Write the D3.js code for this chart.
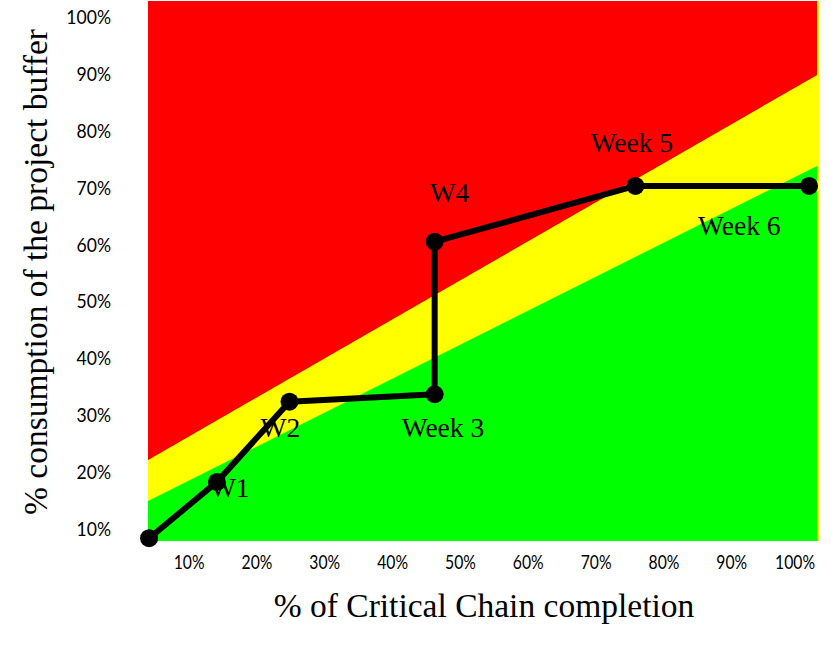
<!DOCTYPE html>
<html>
<head>
<meta charset="utf-8">
<script src="https://cdn.jsdelivr.net/npm/d3@7"></script>
<style>
  body { margin: 0; background: #fff; }
  svg { display: block; }
</style>
</head>
<body>
<div id="chart"></div>
<script>
// buffer consumption chart (fever chart)

// progress points: % of critical chain done vs % of buffer used
var completion = [1.9, 11.9, 22.6, 44.0, 44.0, 73.6, 99.2];
var consumption = [8.5, 18.4, 32.5, 33.8, 60.6, 70.4, 70.4];
var pointLabels = ["", "W1", "W2", "Week 3", "W4", "Week 5", "Week 6"];

// zone boundaries (red above upper, yellow between, green below lower)
var zoneX = [0, 101];
var upperZone = [21.0, 90.3];
var lowerZone = [14.0, 74.3];

var xTicks = [10, 20, 30, 40, 50, 60, 70, 80, 90, 100];
var yTicks = [10, 20, 30, 40, 50, 60, 70, 80, 90, 100];

// label offsets from their point, px
var labelOffsets = [[0, 0], [-7, 15], [-29, 35], [-33, 43], [-5, -40], [-45, -34], [-111, 49]];

var W = 831, H = 647;
var plot = {left: 148, right: 817, top: 1, bottom: 541};

var svg = d3.select("#chart")
  .append("svg")
    .attr("width", W)
    .attr("height", H);

var x = d3.scaleLinear()
  .domain([0, 100])
  .range([136.2, 814.5]);

var y = d3.scaleLinear()
  .domain([0, 100])
  .range([586.6, 17.5]);

svg.append("clipPath")
    .attr("id", "plotClip")
  .append("rect")
    .attr("x", plot.left)
    .attr("y", plot.top)
    .attr("width", plot.right - plot.left)
    .attr("height", plot.bottom - plot.top);

// thin yellow strip shows on the right edge in the original
svg.append("rect")
  .attr("x", plot.left)
  .attr("y", plot.top)
  .attr("width", plot.right - plot.left + 2)
  .attr("height", plot.bottom - plot.top)
  .style("fill", "#ffff00");

var zones = svg.append("g").attr("clip-path", "url(#plotClip)");

var yHi = y.domain()[1] + 10, yLo = y.domain()[0] - 10;

var area = d3.area()
  .x(function(d) { return x(d[0]); })
  .y0(function(d) { return y(d[1]); })
  .y1(function(d) { return y(d[2]); });

// red: above upper line
zones.append("path")
  .datum(zoneX.map(function(v, i) { return [v, upperZone[i], yHi]; }))
  .attr("d", area)
  .style("fill", "#ff0000");

// yellow: between
zones.append("path")
  .datum(zoneX.map(function(v, i) { return [v, lowerZone[i], upperZone[i]]; }))
  .attr("d", area)
  .style("fill", "#ffff00");

// green: below lower line
zones.append("path")
  .datum(zoneX.map(function(v, i) { return [v, yLo, lowerZone[i]]; }))
  .attr("d", area)
  .style("fill", "#00ff00");

// axes
var tickFont = "Lato, 'Open Sans', sans-serif";

var yAxis = svg.append("g")
  .attr("transform", "translate(111,0)")
  .call(d3.axisLeft(y).tickValues(yTicks).tickSize(0).tickPadding(0)
        .tickFormat(function(d) { return d + "%"; }));
yAxis.select(".domain").remove();
yAxis.selectAll("text")
  .attr("transform", "scale(0.95,1)")
  .style("font-family", tickFont)
  .style("font-size", "18.5px")
  .style("fill", "#000");

var xAxis = svg.append("g")
  .attr("transform", "translate(0," + plot.bottom + ")")
  .call(d3.axisBottom(x).tickValues(xTicks).tickSize(0).tickPadding(15)
        .tickFormat(function(d) { return d + "%"; }));
xAxis.select(".domain").remove();
xAxis.selectAll("text")
  .attr("text-anchor", "end")
  .attr("transform", "scale(0.85,1)")
  .style("font-family", tickFont)
  .style("font-size", "18.5px")
  .style("fill", "#000");

// axis titles
var titleFont = "'Liberation Serif', 'Times New Roman', serif";

svg.append("text")
  .attr("x", 484)
  .attr("y", 617)
  .attr("text-anchor", "middle")
  .style("font-family", titleFont)
  .style("font-size", "33.5px")
  .text("% of Critical Chain completion");

svg.append("text")
  .attr("transform", "translate(47,272) rotate(-90)")
  .attr("text-anchor", "middle")
  .style("font-family", titleFont)
  .style("font-size", "33.5px")
  .text("% consumption of the project buffer");

// progress line
var pts = completion.map(function(v, i) { return [v, consumption[i]]; });

svg.append("path")
  .datum(pts)
  .attr("d", d3.line()
    .x(function(d) { return x(d[0]); })
    .y(function(d) { return y(d[1]); }))
  .style("fill", "none")
  .style("stroke", "#000")
  .style("stroke-width", 6)
  .style("stroke-linejoin", "round");

svg.append("g")
  .selectAll("circle")
  .data(pts)
  .enter()
  .append("circle")
    .attr("cx", function(d) { return x(d[0]); })
    .attr("cy", function(d) { return y(d[1]); })
    .attr("r", 9)
    .style("fill", "#000");

svg.append("g")
  .selectAll("text")
  .data(pts)
  .enter()
  .append("text")
    .attr("x", function(d, i) { return x(d[0]) + labelOffsets[i][0]; })
    .attr("y", function(d, i) { return y(d[1]) + labelOffsets[i][1]; })
    .style("font-family", titleFont)
    .style("font-size", "27.5px")
    .style("fill", "#000")
    .text(function(d, i) { return pointLabels[i]; });
</script>
</body>
</html>
